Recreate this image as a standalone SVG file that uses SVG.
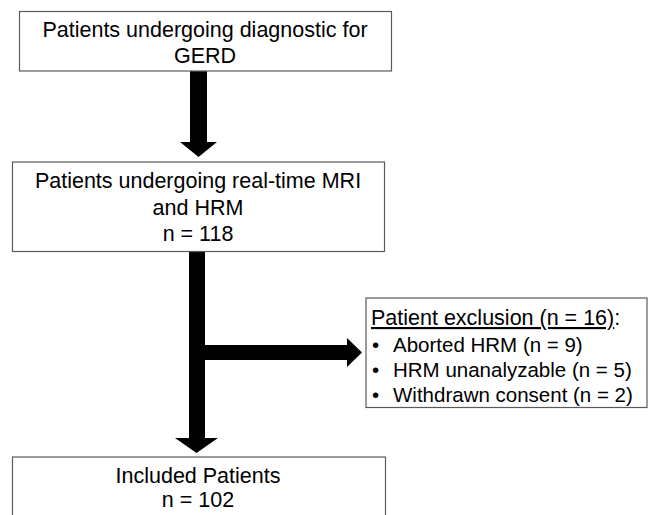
<svg xmlns="http://www.w3.org/2000/svg" width="653" height="515" viewBox="0 0 653 515">
<style>
.box{fill:#fff;stroke:#5a5a5a;stroke-width:1.2}
text{font-family:"Liberation Sans",Arial,sans-serif;font-size:21.5px;fill:#000}
.c{text-anchor:middle}
.s{font-size:20.5px}
.arrow{fill:#000}
</style>
<rect width="653" height="515" fill="#fff"/>
<g id="connectors">
<polygon class="arrow" points="190,71 207,71 207,142 217,142 198.5,157 180,142 190,142"/>
<polygon class="arrow" points="189,252 205,252 205,345 347,345 347,338 362,352.5 347,367 347,360 205,360 205,438 218,438 196.5,453 175,438 189,438"/>
</g>
<g id="node-gerd">
<rect class="box" x="19.5" y="11.5" width="372" height="59.5"/>
<text class="c" x="205" y="37">Patients undergoing diagnostic for</text>
<text class="c" x="205" y="63">GERD</text>
</g>
<g id="node-mri">
<rect class="box" x="12.5" y="162" width="372" height="89.5"/>
<text class="c" x="198" y="188">Patients undergoing real-time MRI</text>
<text class="c" x="198" y="215">and HRM</text>
<text class="c" x="198" y="241">n = 118</text>
</g>
<g id="node-exclusion">
<rect class="box" x="366" y="298" width="281" height="109.5"/>
<text x="371" y="325"><tspan text-decoration="underline">Patient exclusion (n = 16)</tspan>:</text>
<text class="s" x="372" y="352">•</text><text class="s" x="393" y="352">Aborted HRM (n = 9)</text>
<text class="s" x="372" y="377">•</text><text class="s" x="393" y="377">HRM unanalyzable (n = 5)</text>
<text class="s" x="372" y="402">•</text><text class="s" x="393" y="402">Withdrawn consent (n = 2)</text>
</g>
<g id="node-included">
<rect class="box" x="12.5" y="457" width="373" height="70"/>
<text class="c" x="198" y="483">Included Patients</text>
<text class="c" x="198" y="507">n = 102</text>
</g>
</svg>
